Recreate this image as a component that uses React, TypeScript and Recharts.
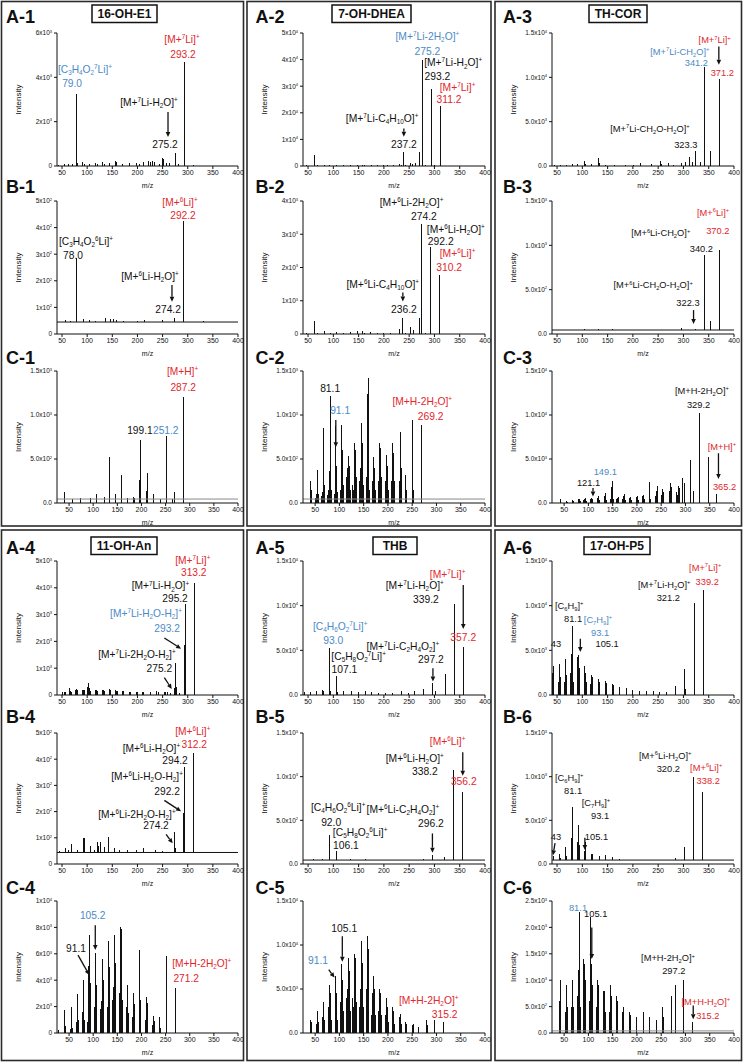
import React from 'react';
import { ComposedChart, Bar, XAxis, YAxis, ReferenceLine, ReferenceDot } from 'recharts';

const FONT = '"Liberation Sans", Arial, Helvetica, sans-serif';
const INK = '#111';
const RED = '#e2262c';
const BLUE = '#4b8ac6';
const GREY = '#8a8a8a';

// peaks: [m/z, intensity]; notes: [m/z, intensity, text, kind]; arrows: [m/z, int, m/z, int]
// text markup: ^ = superscript, _ = subscript. kind: M = molecular ion (red), D = diagnostic (blue), N = plain

const xTicks = [50, 100, 150, 200, 250, 300, 350, 400];

const yTicks6k = [0, 2000, 4000, 6000];
const yLabels6k = ['0', '2x10^3', '4x10^3', '6x10^3'];
const yTicks500 = [0, 100, 200, 300, 400, 500];
const yLabels500 = ['0', '1x10^2', '2x10^2', '3x10^2', '4x10^2', '5x10^2'];
const yTicks1500 = [0, 500, 1000, 1500];
const yLabels1500 = ['0.0', '5.0x10^2', '1.0x10^3', '1.5x10^3'];
const yTicks50k = [0, 10000, 20000, 30000, 40000, 50000];
const yLabels50k = ['0', '1x10^4', '2x10^4', '3x10^4', '4x10^4', '5x10^4'];
const yTicks4k = [0, 1000, 2000, 3000, 4000];
const yLabels4k = ['0', '1x10^3', '2x10^3', '3x10^3', '4x10^3'];
const yTicks15k = [0, 5000, 10000, 15000];
const yLabels15k = ['0.0', '5.0x10^3', '1.0x10^4', '1.5x10^4'];
const yTicks5k = [0, 1000, 2000, 3000, 4000, 5000];
const yLabels5k = ['0', '1x10^3', '2x10^3', '3x10^3', '4x10^3', '5x10^3'];
const yTicks10k = [0, 2000, 4000, 6000, 8000, 10000];
const yLabels10k = ['0', '2x10^3', '4x10^3', '6x10^3', '8x10^3', '1x10^4'];
const yTicks2500 = [0, 500, 1000, 1500, 2000, 2500];
const yLabels2500 = ['0.0', '5.0x10^2', '1.0x10^3', '1.5x10^3', '2.0x10^3', '2.5x10^3'];

const compounds = ['16-OH-E1', '7-OH-DHEA', 'TH-COR', '11-OH-An', 'THB', '17-OH-P5'];

// ---- 16-OH-E1
const peaksA1 = [[43, 60], [55, 70], [63, 80], [70, 90], [79, 3250], [81, 150], [91, 160], [95, 90], [105, 110], [117, 130], [121, 90], [131, 170], [135, 100], [145, 120], [157, 220], [159, 190], [171, 100], [185, 140], [199, 130], [205, 110], [213, 160], [221, 210], [225, 190], [229, 230], [233, 200], [243, 90], [249, 360], [251, 300], [257, 150], [263, 130], [275, 600], [281, 80], [293, 4690], [311, 60]];
const notesA1 = [[95.7, 4194, '[C_3H_4O_2^7Li]^+', 'D'], [70, 3563, '79.0', 'D'], [288.6, 5547, '[M+^7Li]^+', 'M'], [290.6, 4870, '293.2', 'M'], [223, 2706, '[M+^7Li-H_2O]^+', 'N'], [254.8, 812, '275.2', 'N']];
const arrowsA1 = [[260.8, 2435, 260.8, 1308]];

const peaksB1 = [[57, 52], [66, 50], [78, 285], [93, 55], [105, 52], [117, 50], [136, 62], [145, 56], [152, 55], [157, 54], [171, 50], [199, 50], [213, 52], [249, 52], [274, 62], [292, 425], [330, 50]];
const baseB1 = 45;
const notesB1 = [[284.6, 481, '[M+^6Li]^+', 'M'], [290.6, 431, '292.2', 'M'], [97.7, 335, '[C_3H_4O_2^6Li]^+', 'N'], [71.8, 281, '78.0', 'N'], [225, 203, '[M+^6Li-H_2O]^+', 'N'], [261, 80, '274.2', 'N']];
const arrowsB1 = [[268.7, 184, 268.7, 121]];

const peaksC1 = [[40, 130], [57, 50], [74, 62], [95, 55], [107, 100], [123, 65], [133, 520], [147, 105], [159, 320], [171, 60], [183, 70], [185, 60], [197, 263], [199, 716], [211, 140], [213, 343], [225, 105], [239, 50], [251, 761], [265, 50], [269, 130], [287, 1199]];
const baseC1 = 45;
const notesC1 = [[285, 1451, '[M+H]^+', 'M'], [286.5, 1274, '287.2', 'M'], [196.8, 784, '199.1', 'N'], [250.3, 784, '251.2', 'D']];
const arrowsC1 = [];

// ---- 7-OH-DHEA
const peaksA2 = [[45, 300], [61, 4000], [67, 300], [81, 450], [91, 250], [105, 200], [119, 200], [133, 250], [147, 350], [157, 450], [161, 200], [175, 300], [187, 200], [199, 250], [207, 200], [219, 300], [229, 600], [233, 400], [237, 5100], [241, 300], [251, 1100], [255, 600], [261, 1000], [269, 5400], [275, 39750], [281, 400], [293, 29100], [299, 300], [311, 22500], [329, 150]];
const notesA2 = [[286, 47500, '[M+^7Li-2H_2O]^+', 'D'], [286, 41600, '275.2', 'D'], [337, 37500, '[M+^7Li-H_2O]^+', 'N'], [306, 32250, '293.2', 'N'], [345.7, 28100, '[M+^7Li]^+', 'M'], [329, 23500, '311.2', 'M'], [196.5, 16600, '[M+^7Li-C_4H_10O]^+', 'N'], [239.5, 6600, '237.2', 'N']];
const arrowsA2 = [[239.5, 14100, 239.5, 11000]];

const peaksB2 = [[45, 40], [61, 392], [67, 40], [81, 80], [93, 40], [105, 50], [119, 45], [133, 60], [147, 90], [157, 80], [161, 40], [173, 50], [187, 40], [199, 40], [213, 45], [229, 150], [236, 474], [241, 40], [251, 200], [258, 130], [270, 480], [274, 3322], [281, 40], [292, 2618], [310, 1782]];
const notesB2 = [[254.8, 3845, '[M+^6Li-2H_2O]^+', 'N'], [279.3, 3443, '274.2', 'N'], [342.3, 3041, '[M+^6Li-H_2O]^+', 'N'], [312.5, 2688, '292.2', 'N'], [345.7, 2316, '[M+^6Li]^+', 'M'], [329, 1882, '310.2', 'M'], [197.7, 1380, '[M+^6Li-C_4H_10O]^+', 'N'], [239.5, 625, '236.2', 'N']];
const arrowsB2 = [[237.5, 1247, 237.5, 975]];

const peaksC2 = [[41, 245], [43, 150], [51, 60], [53, 100], [55, 377], [57, 100], [63, 80], [65, 120], [67, 848], [69, 200], [75, 90], [77, 150], [79, 358], [81, 1214], [83, 150], [89, 100], [91, 870], [93, 860], [95, 420], [97, 120], [103, 150], [105, 886], [107, 600], [109, 200], [115, 300], [117, 400], [119, 535], [121, 420], [123, 150], [128, 200], [129, 150], [131, 680], [133, 600], [135, 300], [141, 250], [143, 400], [145, 912], [147, 680], [149, 200], [155, 300], [157, 1233], [159, 1425], [161, 420], [163, 150], [169, 250], [171, 528], [173, 400], [175, 150], [181, 250], [183, 680], [185, 622], [187, 300], [195, 250], [197, 547], [199, 420], [201, 150], [207, 250], [209, 680], [211, 566], [213, 250], [223, 250], [225, 811], [227, 400], [237, 320], [239, 150], [251, 943], [253, 150], [269, 886]];
const baseC2 = 45;
const notesC2 = [[81, 1262, '81.1', 'N'], [101.6, 1010, '91.1', 'D'], [270.7, 1112, '[M+H-2H_2O]^+', 'M'], [288, 942, '269.2', 'M']];
const arrowsC2 = [[92.6, 942, 92.6, 633]];

// ---- TH-COR
const peaksA3 = [[45, 150], [57, 120], [69, 150], [81, 250], [91, 180], [105, 550], [107, 200], [119, 200], [131, 870], [133, 300], [145, 150], [163, 150], [185, 120], [201, 120], [215, 350], [237, 200], [255, 600], [257, 200], [271, 300], [281, 150], [297, 300], [305, 400], [311, 983], [317, 400], [323, 1729], [333, 500], [341, 11220], [353, 1729], [371, 9797]];
const notesA3 = [[361.7, 13865, '[M+^7Li]^+', 'M'], [376.8, 10170, '371.2', 'M'], [292.8, 12543, '[M+^7Li-CH_2O]^+', 'D'], [325.6, 11300, '341.2', 'D'], [233.7, 3876, '[M+^7Li-CH_2O-H_2O]^+', 'N'], [304.6, 2000, '323.3', 'N']];
const arrowsA3 = [[370, 13480, 370, 11413]];

const peaksB3 = [[66, 50], [80, 48], [104, 55], [131, 56], [159, 55], [185, 48], [215, 50], [256, 50], [281, 50], [296, 70], [322, 52], [340, 889], [352, 150], [370, 953]];
const baseB3 = 45;
const notesB3 = [[358.5, 1331, '[M+^6Li]^+', 'M'], [368, 1133, '370.2', 'M'], [255, 1102, '[M+^6Li-CH_2O]^+', 'N'], [335.5, 926, '340.2', 'N'], [240, 514, '[M+^6Li-CH_2O-H_2O]^+', 'N'], [309, 315, '322.3', 'N']];
const arrowsB3 = [[320, 270, 320, 112]];

const peaksC3 = [[43, 450], [55, 200], [57, 150], [67, 300], [69, 200], [79, 400], [81, 500], [83, 200], [91, 300], [93, 400], [95, 600], [97, 200], [105, 400], [107, 600], [109, 500], [119, 600], [121, 800], [123, 300], [133, 800], [135, 1130], [137, 300], [145, 500], [147, 1800], [149, 2450], [151, 400], [159, 400], [161, 600], [163, 700], [171, 500], [173, 800], [175, 1050], [177, 300], [185, 600], [187, 700], [189, 300], [199, 700], [201, 800], [203, 300], [211, 800], [213, 900], [215, 400], [225, 2337], [227, 1500], [229, 500], [239, 800], [241, 1400], [243, 1900], [251, 900], [253, 1600], [255, 1200], [267, 1400], [269, 2262], [271, 1800], [281, 1200], [283, 900], [285, 1900], [287, 1700], [293, 2800], [295, 1500], [299, 2300], [311, 4900], [317, 1320], [329, 10254], [347, 5200], [365, 1018]];
const notesC3 = [[334, 12440, '[M+H-2H_2O]^+', 'N'], [327, 10815, '329.2', 'N'], [375, 6030, '[M+H]^+', 'M'], [380.5, 1500, '365.2', 'M'], [134.8, 3200, '149.1', 'D'], [100.4, 1880, '121.1', 'N']];
const arrowsC3 = [[368, 5655, 368, 2714], [109.5, 1697, 109.5, 750]];

// ---- 11-OH-An
const peaksA4 = [[50, 100], [55, 130], [57, 100], [65, 250], [67, 150], [69, 120], [77, 200], [79, 230], [81, 200], [91, 200], [93, 180], [95, 170], [101, 300], [103, 439], [105, 250], [107, 160], [117, 180], [119, 200], [121, 150], [131, 170], [133, 180], [135, 150], [145, 230], [147, 200], [157, 170], [159, 160], [161, 140], [171, 150], [173, 140], [185, 130], [187, 120], [199, 120], [201, 110], [211, 100], [213, 120], [225, 130], [237, 150], [241, 100], [253, 130], [255, 100], [259, 100], [265, 90], [273, 250], [275, 1189], [277, 300], [283, 80], [293, 1852], [295, 3401], [313, 4189]];
const notesA4 = [[310, 4875, '[M+^7Li]^+', 'M'], [312, 4440, '313.2', 'M'], [245.6, 3937, '[M+^7Li-H_2O]^+', 'N'], [274.8, 3476, '295.2', 'N'], [217, 2902, '[M+^7Li-H_2O-H_2]^+', 'D'], [259, 2351, '293.2', 'D'], [199, 1376, '[M+^7Li-2H_2O-H_2]^+', 'N'], [243.6, 840, '275.2', 'N']];
const arrowsA4 = [[253.5, 2126, 286.8, 1725], [253.5, 652, 268.2, 225]];

const peaksB4 = [[45, 50], [57, 60], [63, 55], [69, 75], [81, 55], [93, 101], [95, 100], [107, 70], [115, 55], [121, 85], [123, 70], [127, 85], [135, 65], [143, 103], [155, 60], [165, 55], [181, 55], [199, 55], [213, 60], [235, 55], [249, 50], [274, 122], [276, 60], [292, 195], [294, 372], [312, 425]];
const baseB4 = 44;
const notesB4 = [[310, 491, '[M+^6Li]^+', 'M'], [313, 443, '312.2', 'M'], [227.7, 428, '[M+^6Li-H_2O]^+', 'N'], [274.8, 382, '294.2', 'N'], [219, 321, '[M+^6Li-H_2O-H_2]^+', 'N'], [259, 265, '292.2', 'N'], [199, 176, '[M+^6Li-2H_2O-H_2]^+', 'N'], [237, 132, '274.2', 'N']];
const arrowsB4 = [[253.5, 243, 286.8, 201], [257, 113, 270.2, 79]];

const peaksC4 = [[29, 250], [41, 1757], [43, 500], [53, 300], [55, 1958], [57, 400], [65, 800], [67, 2962], [69, 1000], [77, 1600], [79, 3890], [81, 4016], [83, 1000], [89, 800], [91, 5070], [93, 7400], [95, 3800], [103, 2000], [105, 6074], [107, 3600], [115, 1800], [117, 2400], [119, 5572], [121, 4000], [129, 2000], [131, 6978], [133, 5000], [141, 2500], [143, 3500], [145, 7404], [147, 5300], [155, 3000], [157, 8032], [159, 7900], [161, 2500], [169, 2000], [171, 3640], [173, 1500], [181, 1200], [183, 3012], [185, 2200], [195, 1500], [197, 6275], [199, 2500], [209, 1000], [211, 2761], [213, 2300], [223, 600], [225, 1255], [227, 900], [237, 1200], [239, 400], [253, 5823], [271, 3389]];
const notesC4 = [[98.9, 8600, '105.2', 'D'], [64.3, 6150, '91.1', 'N'], [325, 5020, '[M+H-2H_2O]^+', 'M'], [292.7, 3890, '271.2', 'M']];
const arrowsC4 = [[104.3, 8170, 104.3, 6280], [68.5, 5900, 91.9, 4400]];

// ---- THB
const peaksA5 = [[43, 300], [55, 350], [67, 450], [79, 600], [81, 400], [93, 5300], [95, 500], [107, 2100], [109, 300], [121, 500], [135, 400], [149, 300], [163, 400], [175, 300], [189, 250], [203, 250], [217, 200], [235, 400], [249, 200], [261, 400], [279, 700], [297, 1300], [303, 500], [321, 2400], [339, 10200], [357, 5400]];
const notesA5 = [[326, 13100, '[M+^7Li]^+', 'M'], [357, 6050, '357.2', 'M'], [261, 11870, '[M+^7Li-H_2O]^+', 'N'], [283, 10300, '339.2', 'N'], [113.6, 7280, '[C_4H_6O_2^7Li]^+', 'D'], [99.7, 5710, '93.0', 'D'], [150, 3900, '[C_5H_8O_2^7Li]^+', 'N'], [122, 2460, '107.1', 'N'], [237.5, 5040, '[M+^7Li-C_2H_4O_2]^+', 'N'], [293, 3580, '297.2', 'N']];
const arrowsA5 = [[357, 12300, 357, 7400], [297, 3000, 297, 1500]];

const peaksB5 = [[61, 60], [78, 60], [92, 330], [106, 150], [120, 50], [134, 55], [163, 55], [235, 50], [278, 55], [296, 100], [320, 80], [338, 1080], [356, 820]];
const baseB5 = 45;
const notesB5 = [[326, 1363, '[M+^6Li]^+', 'M'], [358, 905, '356.2', 'M'], [261, 1168, '[M+^6Li-H_2O]^+', 'N'], [281, 1019, '338.2', 'N'], [109.6, 607, '[C_4H_6O_2^6Li]^+', 'N'], [95.7, 435, '92.0', 'N'], [153, 320, '[C_5H_8O_2^6Li]^+', 'N'], [125, 172, '106.1', 'N'], [237.5, 584, '[M+^6Li-C_2H_4O_2]^+', 'N'], [293, 424, '296.2', 'N']];
const arrowsB5 = [[356, 1280, 356, 1010], [296, 350, 296, 130]];

const peaksC5 = [[41, 1500], [43, 1200], [53, 1000], [55, 2500], [57, 1200], [65, 1800], [67, 3500], [69, 1500], [77, 3000], [79, 5500], [81, 4500], [83, 1500], [91, 6000], [93, 6500], [95, 4500], [97, 1500], [103, 3500], [105, 7800], [107, 6000], [109, 2500], [115, 4000], [117, 5000], [119, 8500], [121, 7000], [123, 2500], [128, 4000], [129, 3000], [131, 9000], [133, 8500], [135, 3500], [141, 3000], [143, 5000], [145, 10500], [147, 8000], [149, 3000], [155, 5000], [157, 11000], [159, 9500], [161, 4000], [167, 2000], [169, 4500], [171, 6500], [173, 5000], [175, 2000], [181, 2500], [183, 5000], [185, 4500], [187, 2000], [195, 2000], [197, 4000], [199, 3000], [201, 1200], [209, 3000], [211, 2500], [213, 1000], [223, 1800], [225, 2200], [227, 1000], [237, 1200], [239, 1000], [251, 900], [253, 1000], [263, 700], [279, 1500], [281, 900], [297, 1500], [315, 1200]];
const notesC5 = [[110, 11500, '105.1', 'N'], [56, 7800, '91.1', 'D'], [284, 3300, '[M+H-2H_2O]^+', 'M'], [317, 1700, '315.2', 'M']];
const arrowsC5 = [[106, 11000, 106, 8100], [78, 7200, 90, 6300]];

// ---- 17-OH-P5
const peaksA6 = [[41, 2500], [43, 3300], [53, 1500], [55, 3500], [57, 2000], [65, 1500], [67, 4000], [69, 2200], [77, 2500], [79, 4600], [81, 7700], [83, 1500], [91, 4200], [93, 4500], [95, 3000], [105, 3200], [107, 2500], [109, 1500], [117, 1200], [119, 2200], [121, 2000], [131, 1800], [133, 1500], [145, 1600], [147, 1300], [159, 1200], [161, 1100], [173, 900], [187, 800], [199, 600], [213, 500], [227, 400], [241, 400], [253, 350], [267, 300], [285, 1000], [303, 2900], [305, 700], [321, 10300], [339, 11800]];
const notesA6 = [[343, 13890, '[M+^7Li]^+', 'M'], [347, 12320, '339.2', 'M'], [262, 11980, '[M+^7Li-H_2O]^+', 'N'], [270, 10530, '321.2', 'N'], [74, 9630, '[C_6H_9]^+', 'N'], [81.6, 8180, '81.1', 'N'], [131, 8060, '[C_7H_9]^+', 'D'], [135, 6600, '93.1', 'D'], [48, 5370, '43', 'N'], [149, 5370, '105.1', 'N']];
const arrowsA6 = [[96, 6300, 96, 4800]];

const peaksB6 = [[43, 90], [55, 120], [57, 70], [67, 200], [69, 90], [79, 300], [81, 650], [91, 250], [93, 450], [95, 220], [105, 150], [107, 250], [119, 120], [121, 110], [133, 90], [145, 100], [159, 80], [173, 60], [285, 70], [303, 200], [320, 1000], [338, 830]];
const baseB6 = 45;
const notesB6 = [[264, 1202, '[M+^6Li-H_2O]^+', 'N'], [270, 1053, '320.2', 'N'], [345, 1065, '[M+^6Li]^+', 'M'], [349, 916, '338.2', 'M'], [74, 950, '[C_6H_9]^+', 'N'], [81.6, 800, '81.1', 'N'], [127, 664, '[C_7H_9]^+', 'N'], [135, 515, '93.1', 'N'], [48, 275, '43', 'N'], [128, 275, '105.1', 'N']];
const arrowsB6 = [[46, 240, 42, 100], [105, 300, 105, 160]];

const peaksC6 = [[41, 600], [43, 1000], [53, 400], [55, 900], [57, 500], [65, 500], [67, 1000], [69, 500], [77, 700], [79, 1200], [81, 2300], [83, 500], [91, 1400], [93, 1300], [95, 1000], [103, 600], [105, 2200], [107, 1300], [109, 900], [117, 500], [119, 1000], [121, 900], [131, 800], [133, 800], [135, 400], [143, 400], [145, 900], [147, 700], [157, 500], [159, 700], [161, 600], [171, 400], [173, 500], [185, 400], [187, 350], [199, 300], [213, 400], [227, 300], [241, 250], [253, 500], [255, 300], [271, 700], [279, 900], [297, 1000], [315, 200]];
const baseC6 = 40;
const notesC6 = [[78.6, 2310, '81.1', 'D'], [115, 2200, '105.1', 'N'], [264, 1360, '[M+H-2H_2O]^+', 'N'], [276, 1117, '297.2', 'N'], [342, 530, '[M+H-H_2O]^+', 'M'], [346, 265, '315.2', 'M']];
const arrowsC6 = [[107, 2000, 107, 1400], [316, 520, 316, 260]];

const panels = [
  { id: 'A-1', peaks: peaksA1, notes: notesA1, arrows: arrowsA1, yTicks: yTicks6k, yLabels: yLabels6k, base: null },
  { id: 'B-1', peaks: peaksB1, notes: notesB1, arrows: arrowsB1, yTicks: yTicks500, yLabels: yLabels500, base: baseB1 },
  { id: 'C-1', peaks: peaksC1, notes: notesC1, arrows: arrowsC1, yTicks: yTicks1500, yLabels: yLabels1500, base: baseC1 },
  { id: 'A-2', peaks: peaksA2, notes: notesA2, arrows: arrowsA2, yTicks: yTicks50k, yLabels: yLabels50k, base: null },
  { id: 'B-2', peaks: peaksB2, notes: notesB2, arrows: arrowsB2, yTicks: yTicks4k, yLabels: yLabels4k, base: null },
  { id: 'C-2', peaks: peaksC2, notes: notesC2, arrows: arrowsC2, yTicks: yTicks1500, yLabels: yLabels1500, base: baseC2 },
  { id: 'A-3', peaks: peaksA3, notes: notesA3, arrows: arrowsA3, yTicks: yTicks15k, yLabels: yLabels15k, base: null },
  { id: 'B-3', peaks: peaksB3, notes: notesB3, arrows: arrowsB3, yTicks: yTicks1500, yLabels: yLabels1500, base: baseB3 },
  { id: 'C-3', peaks: peaksC3, notes: notesC3, arrows: arrowsC3, yTicks: yTicks15k, yLabels: yLabels15k, base: null },
  { id: 'A-4', peaks: peaksA4, notes: notesA4, arrows: arrowsA4, yTicks: yTicks5k, yLabels: yLabels5k, base: null },
  { id: 'B-4', peaks: peaksB4, notes: notesB4, arrows: arrowsB4, yTicks: yTicks500, yLabels: yLabels500, base: baseB4 },
  { id: 'C-4', peaks: peaksC4, notes: notesC4, arrows: arrowsC4, yTicks: yTicks10k, yLabels: yLabels10k, base: null },
  { id: 'A-5', peaks: peaksA5, notes: notesA5, arrows: arrowsA5, yTicks: yTicks15k, yLabels: yLabels15k, base: null },
  { id: 'B-5', peaks: peaksB5, notes: notesB5, arrows: arrowsB5, yTicks: yTicks1500, yLabels: yLabels1500, base: baseB5 },
  { id: 'C-5', peaks: peaksC5, notes: notesC5, arrows: arrowsC5, yTicks: yTicks15k, yLabels: yLabels15k, base: null },
  { id: 'A-6', peaks: peaksA6, notes: notesA6, arrows: arrowsA6, yTicks: yTicks15k, yLabels: yLabels15k, base: null },
  { id: 'B-6', peaks: peaksB6, notes: notesB6, arrows: arrowsB6, yTicks: yTicks1500, yLabels: yLabels1500, base: baseB6 },
  { id: 'C-6', peaks: peaksC6, notes: notesC6, arrows: arrowsC6, yTicks: yTicks2500, yLabels: yLabels2500, base: baseC6 },
];

// layout
const colLeft = [2, 248, 497];
const colWidth = [240, 241, 241];
const noteSize = [10.2, 10.3, 9.3];
const plotRows = [[33, 166], [201, 334], [371, 503], [561, 695], [733, 864], [901, 1033]];
const labelX = [6, 255.5, 503];
const labelY = [23.3, 193.3, 364, 554, 723.3, 894];
const colBox = [[1.5, 242], [247, 244], [495, 246.5]];
const blockBox = [[1.5, 524.5], [530, 530.5]];
const titleBox = [[92, 5, 65], [332, 5, 79], [589, 5, 58], [91, 537, 66], [373, 537, 44], [584, 537, 66]];
const TOP = 16;

const noteColor = (k) => (k === 'M' ? RED : k === 'D' ? BLUE : INK);

function parseRich(s) {
  const out = [];
  let i = 0;
  while (i < s.length) {
    const c = s[i];
    if (c === '^' || c === '_') {
      let j = i + 1;
      if (s[j] === '+') j++;
      else while (j < s.length && /[0-9]/.test(s[j])) j++;
      out.push({ t: s.slice(i + 1, j), k: c === '^' ? 1 : 2 });
      i = j;
    } else {
      let j = i;
      while (j < s.length && s[j] !== '^' && s[j] !== '_') j++;
      out.push({ t: s.slice(i, j), k: 0 });
      i = j;
    }
  }
  return out;
}

function RichText({ x, y, text, size, fill, anchor = 'middle' }) {
  const parts = parseRich(text);
  let shift = 0;
  return (
    <text x={x} y={y} fontSize={size} fill={fill} style={{ fill }} textAnchor={anchor} fontFamily={FONT}>
      {parts.map((p, i) => {
        const target = p.k === 1 ? -0.38 * size : p.k === 2 ? 0.22 * size : 0;
        const dy = target - shift;
        shift = target;
        return (
          <tspan key={i} dy={dy} fontSize={p.k ? size * 0.62 : size}>
            {p.t}
          </tspan>
        );
      })}
    </text>
  );
}

const Stick = (p) => {
  const { x, y, width, height } = p;
  if (!Number.isFinite(x) || !Number.isFinite(y) || !(height > 0)) return null;
  return <rect x={x + width / 2 - 0.5} y={y} width={1} height={height} fill={INK} shapeRendering="crispEdges" />;
};

const ArrowShape = (p) => {
  const { x1, y1, x2, y2 } = p;
  if (![x1, y1, x2, y2].every((v) => Number.isFinite(v))) return null;
  const dx = x2 - x1;
  const dy = y2 - y1;
  const len = Math.hypot(dx, dy) || 1;
  const ux = dx / len;
  const uy = dy / len;
  const h = 5;
  const w = 2.3;
  const bx = x2 - ux * h;
  const by = y2 - uy * h;
  return (
    <g>
      <line x1={x1} y1={y1} x2={bx} y2={by} stroke={INK} strokeWidth={1.3} />
      <path d={`M${x2},${y2}L${bx - uy * w},${by + ux * w}L${bx + uy * w},${by - ux * w}Z`} fill={INK} />
    </g>
  );
};

function Spectrum({ spec }) {
  const n = Number(spec.id.slice(2));
  const r = 'ABC'.indexOf(spec.id[0]);
  const block = n > 3 ? 1 : 0;
  const col = (n - 1) % 3;
  const [pTop, pBottom] = plotRows[block * 3 + r];
  const height = pBottom - pTop + TOP + 26;
  // in the 6Li spectra the noise floor sits on a raised baseline, so sticks start from it
  const floor = r === 1 && spec.base != null ? spec.base : null;
  const data = spec.peaks.map(([mz, i]) => ({ mz, i: floor != null ? [floor, i] : i }));
  const yMax = spec.yTicks[spec.yTicks.length - 1];
  const xMin = r === 2 ? 25 : 40;
  const fs = noteSize[col];
  return (
    <div style={{ position: 'absolute', left: colLeft[col], top: pTop - TOP }}>
      <ComposedChart width={colWidth[col] + 8} height={height} data={data} margin={{ top: TOP, right: 12, bottom: 0, left: 0 }}>
        <XAxis
          type="number"
          dataKey="mz"
          domain={[xMin, 400]}
          ticks={xTicks}
          allowDataOverflow
          interval={0}
          height={26}
          tickSize={3}
          tickMargin={1}
          stroke={INK}
          tick={{ fontSize: 7, fill: INK, fontFamily: FONT }}
          label={(p) => {
            const vb = p.viewBox || {};
            return (
              <text x={vb.x + vb.width / 2} y={vb.y + 22} fontSize={7} fill={INK} style={{ fill: INK }} textAnchor="middle" fontFamily={FONT}>
                m/z
              </text>
            );
          }}
        />
        <YAxis
          type="number"
          domain={[0, yMax]}
          ticks={spec.yTicks}
          allowDataOverflow
          interval={0}
          width={55}
          tickSize={3}
          tickMargin={2}
          stroke={INK}
          tick={(p) => {
            const idx = spec.yTicks.indexOf(p.payload.value);
            return <RichText x={p.x} y={p.y + 2.3} text={spec.yLabels[idx] || ''} size={6.5} fill={INK} anchor="end" />;
          }}
          label={(p) => {
            const vb = p.viewBox || {};
            const cx = vb.x + 19;
            const cy = vb.y + vb.height / 2;
            return (
              <text x={cx} y={cy} fontSize={8} fill={INK} style={{ fill: INK }} textAnchor="middle" fontFamily={FONT} transform={`rotate(-90 ${cx} ${cy})`}>
                Intensity
              </text>
            );
          }}
        />
        <Bar dataKey="i" barSize={1} fill={INK} isAnimationActive={false} shape={Stick} />
        {spec.base != null && (
          <ReferenceLine y={spec.base} stroke={r === 1 ? INK : GREY} strokeWidth={1} ifOverflow="visible" />
        )}
        {spec.arrows.map((a, i) => (
          <ReferenceLine
            key={'a' + i}
            segment={[{ x: a[0], y: a[1] }, { x: a[2], y: a[3] }]}
            ifOverflow="visible"
            shape={ArrowShape}
          />
        ))}
        {spec.notes.map((nt, i) => (
          <ReferenceDot
            key={'n' + i}
            x={nt[0]}
            y={nt[1]}
            r={0}
            ifOverflow="visible"
            shape={(p) => <RichText x={p.cx} y={p.cy} text={nt[2]} size={fs} fill={noteColor(nt[3])} />}
          />
        ))}
      </ComposedChart>
    </div>
  );
}

export default function App() {
  return (
    <div style={{ position: 'absolute', left: 0, top: 0, width: 743, height: 1062, background: '#fff', overflow: 'hidden' }}>
      <svg width={743} height={1062} style={{ position: 'absolute', left: 0, top: 0 }}>
        {blockBox.map(([by, bh], b) =>
          colBox.map(([bx, bw], c) => (
            <rect key={`${b}-${c}`} x={bx} y={by} width={bw} height={bh} fill="none" stroke="#2b2b2b" strokeWidth={1.6} />
          ))
        )}
        {titleBox.map(([tx, ty, tw], i) => (
          <g key={'t' + i}>
            <rect x={tx} y={ty} width={tw} height={17.5} fill="#fff" stroke={INK} strokeWidth={1.5} />
            <text x={tx + tw / 2} y={ty + 13.2} fontSize={12} fontWeight="bold" textAnchor="middle" fontFamily={FONT} fill={INK}>
              {compounds[i]}
            </text>
          </g>
        ))}
        {panels.map((p) => {
          const n = Number(p.id.slice(2));
          const r = 'ABC'.indexOf(p.id[0]);
          const block = n > 3 ? 1 : 0;
          const col = (n - 1) % 3;
          return (
            <text key={'l' + p.id} x={labelX[col]} y={labelY[block * 3 + r]} fontSize={18} fontWeight="bold" fontFamily={FONT} fill={INK}>
              {p.id}
            </text>
          );
        })}
      </svg>
      {panels.map((p) => (
        <Spectrum key={p.id} spec={p} />
      ))}
    </div>
  );
}
